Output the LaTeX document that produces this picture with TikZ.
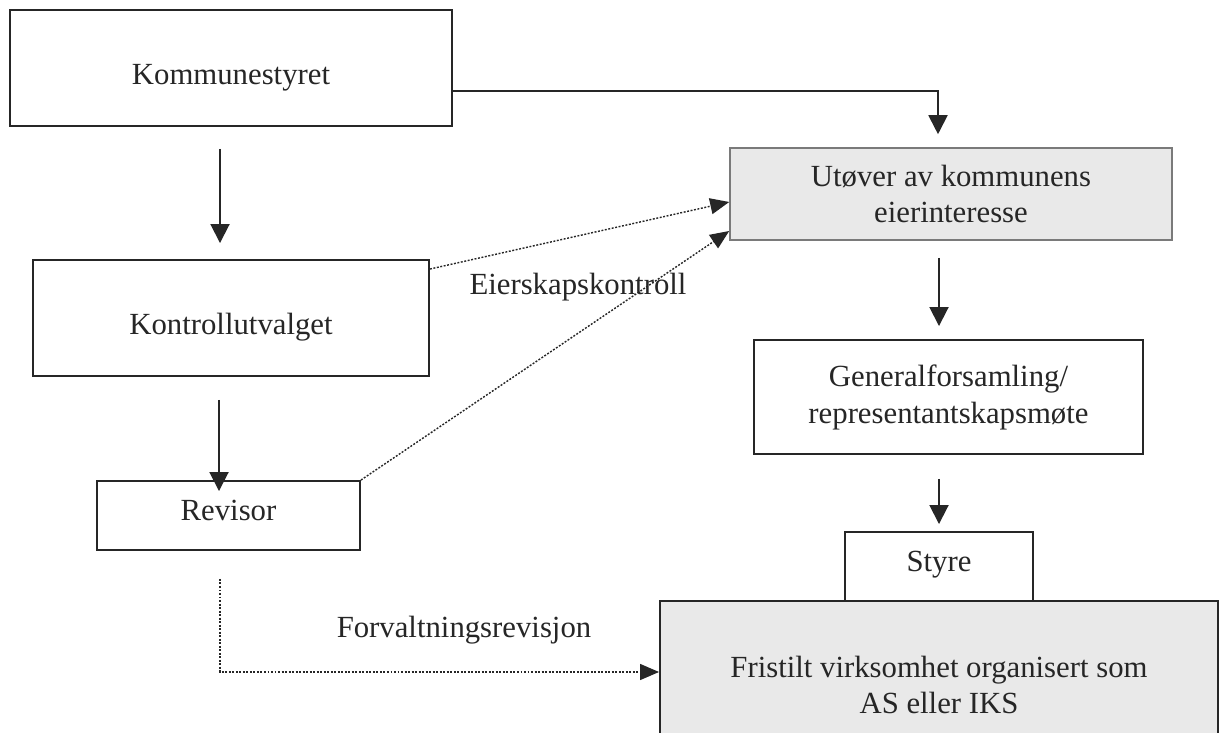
\documentclass[tikz,border=0pt]{standalone}
\usepackage{fontspec}
\setmainfont{Liberation Serif}
\usetikzlibrary{arrows.meta}
\newdimen\px \px=0.02cm
\definecolor{ink}{HTML}{262626}
\definecolor{boxgray}{HTML}{E9E9E9}
\definecolor{edgegray}{HTML}{7A7A7A}
\begin{document}
\begin{tikzpicture}[x=0.02cm, y=-0.02cm,
  every node/.style={font=\fontsize{17.5}{21}\selectfont, text=ink},
  box/.style={draw=ink, line width=1.1pt, inner sep=0pt, align=center},
  graybox/.style={box, fill=boxgray},
  arr/.style={draw=ink, line width=1.1pt, -{Triangle[length=0.38cm, width=0.38cm]}},
  dotarr/.style={draw=ink, line width=0.8pt, dash pattern=on 1.1pt off 0.9pt, -{Triangle[length=0.38cm, width=0.32cm]}},
  lbl/.style={inner sep=0pt}]
\useasboundingbox (0,0) rectangle (1220,733);
\clip (0,0) rectangle (1220,733);
\fill[white] (0,0) rectangle (1220,733);

\node[box, minimum width=442\px, minimum height=116\px, text height=34\px, text depth=0pt] (ks) at (231,68) {Kommunestyret};
\node[box, minimum width=396\px, minimum height=116\px, text height=32\px, text depth=0pt] (ku) at (231,318) {Kontrollutvalget};
\node[box, minimum width=263\px, minimum height=69\px, text height=10\px, text depth=0pt] (rev) at (228.5,515.5) {Revisor};
\node[graybox, draw=edgegray, line width=0.9pt, minimum width=442\px, minimum height=92\px] (ut) at (951,194) {Utøver av kommunens\\eierinteresse};
\node[box, minimum width=389\px, minimum height=114\px] (gf) at (948.5,397) {Generalforsamling/\\representantskapsmøte};
\node[box, minimum width=188\px, minimum height=69\px, text height=9\px, text depth=0pt] (st) at (939,566.5) {Styre};
\node[graybox, minimum width=558\px, minimum height=168\px] (fr) at (939,685) {Fristilt virksomhet organisert som\\AS eller IKS};

\node[lbl] (l1) at (578,287) {Eierskapskontroll};
\node[lbl] (l2) at (464,630) {Forvaltningsrevisjon};

\draw[arr] ([yshift=-23\px]ks.east) -| ([xshift=-13\px, yshift=13\px]ut.north);
\draw[arr, shorten <=22\px, shorten >=16\px] ([xshift=-11\px]ks.south) -- ([xshift=-11\px]ku.north);
\draw[arr, shorten <=23\px] ([xshift=-12\px]ku.south) -- ([xshift=-9.5\px, yshift=-11\px]rev.north);
\draw[arr, shorten <=17\px, shorten >=13\px] ([xshift=-12\px]ut.south) -- ([xshift=-9.5\px]gf.north);
\draw[arr, shorten <=24\px, shorten >=7\px] ([xshift=-9.5\px]gf.south) -- (st.north);

\draw[dotarr] ([yshift=-10\px]ku.north east) -- ([yshift=-8\px]ut.west);
\draw[dotarr] (rev.north east) -- ([yshift=-37\px]ut.west);
\draw[dotarr] ([xshift=-8.5\px, yshift=-28\px]rev.south) |- ([yshift=13\px]fr.west);
\end{tikzpicture}
\end{document}
